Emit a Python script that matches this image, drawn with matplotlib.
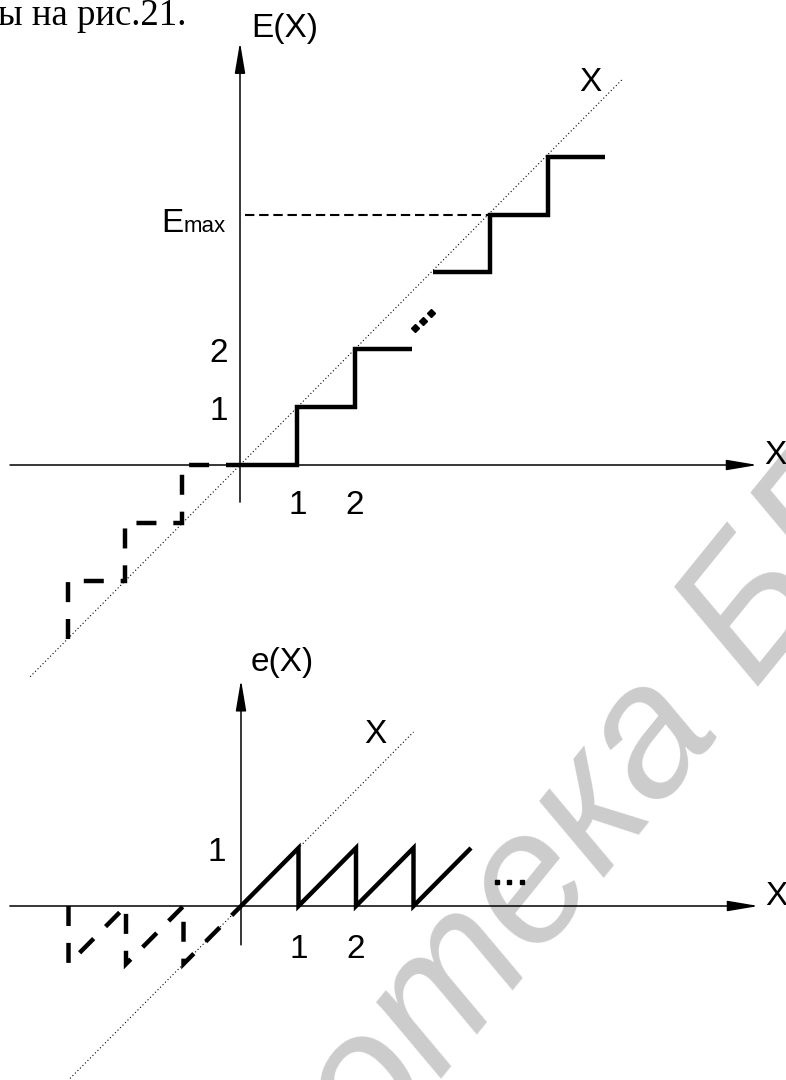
import matplotlib.pyplot as plt

plt.rcParams['font.family'] = ['Liberation Sans Narrow', 'Liberation Sans', 'DejaVu Sans']

# quantizer characteristic E(X), unit step, truncation toward zero
stair_x = [0, 1, 1, 2, 2, 3]
stair_y = [0, 0, 1, 1, 2, 2]
# last steps close to full scale
top_x = [3.35, 4.35, 4.35, 5.35, 5.35, 6.35]
top_y = [3.32, 3.32, 4.31, 4.31, 5.31, 5.31]
e_max = 4.31
# negative half (dashed)
neg_x = [-3, -3, -2, -2, -1, -1, 0]
neg_y = [-3, -2, -2, -1, -1, 0, 0]

# quantization error e(X) = X - E(X)
err_x = [0, 1, 1, 2, 2, 3, 3, 4]
err_y = [0, 1, 0, 1, 0, 1, 0, 1]
err_neg_x = [-3, -3, -2, -2, -1, -1, 0]
err_neg_y = [0, -1, 0, -1, 0, -1, 0]

ident_top = [-3.65, 6.65]   # span of the X reference line, upper plot
ident_bot = [-3.2, 3.0]     # span of the X reference line, lower plot
tick_vals = [1, 2]

W, H = 786, 1080
ux, uy = 57.5, 58.0          # pixels per unit

fig = plt.figure(figsize=(W / 100, H / 100), dpi=100)

# watermark
fig.text(548 / W, 1 - 870 / H, 'Библиотека БГУИР', family='Liberation Sans',
         style='italic', fontsize=134, color='#cccccc', rotation=51,
         ha='center', va='center', rotation_mode='anchor', zorder=-1)

fig.text(-2 / W, 1 - 25 / H, 'ы на рис.21.', family='Liberation Serif',
         fontsize=26.5, va='baseline')


def unit_axes(ox, oy):
    ax = fig.add_axes([0, 0, 1, 1])
    ax.set_xlim(-ox / ux, (W - ox) / ux)
    ax.set_ylim(-(H - oy) / uy, oy / uy)
    ax.axis('off')
    ax.patch.set_alpha(0)
    return ax


def axis_arrow(ax, x0, y0, x1, y1):
    ax.annotate('', xy=(x1, y1), xytext=(x0, y0),
                arrowprops=dict(arrowstyle='-|>,head_length=1.9,head_width=0.32',
                                lw=1.1, color='k', shrinkA=0, shrinkB=0))


thick = dict(color='k', lw=3.2, solid_joinstyle='miter', solid_capstyle='butt')
dashed = dict(color='k', lw=3.2, ls=(0, (4.5, 3.8)), dash_joinstyle='miter',
              dash_capstyle='butt')
dotted = dict(color='k', lw=0.8, ls=(0, (1, 2.2)))
fs = 24

# ---- upper plot: E(X) ----
ax = unit_axes(240, 465)
axis_arrow(ax, -4.0, 0, 9.0, 0)
axis_arrow(ax, 0, -0.64, 0, 7.29)
ax.plot(ident_top, ident_top, **dotted)
ax.plot(neg_x, neg_y, **dashed)
ax.plot(stair_x, stair_y, **thick)
ax.plot(top_x, top_y, **thick)
ax.plot([0.09, top_x[1]], [e_max, e_max], color='k', lw=1.5, ls=(0, (4.5, 2.3)))
ax.plot([3.04, 3.18, 3.32], [2.36, 2.49, 2.62], 'D', color='k', ms=4)

ax.text(0.2, 7.53, 'E(X)', fontsize=fs, va='center', ha='left')
ax.text(9.12, 0.17, 'X', fontsize=fs, va='center', ha='left')
ax.text(6.09, 6.6, 'X', fontsize=fs, va='center', ha='center')
ax.text(-0.99, 4.02, 'E', fontsize=fs, va='baseline', ha='right')
ax.text(-0.99, 4.02, 'max', fontsize=16, va='baseline', ha='left')
for v in tick_vals:
    ax.text(v, -0.7, str(v), fontsize=fs, va='center', ha='center')
    ax.text(-0.21, v - 0.07, str(v), fontsize=fs, va='center', ha='right')

# ---- lower plot: e(X) ----
bx = unit_axes(241, 906)
axis_arrow(bx, -4.02, 0, 9.0, 0)
axis_arrow(bx, 0, -0.67, 0, 3.9)
bx.plot(ident_bot, ident_bot, **dotted)
bx.plot(err_neg_x, err_neg_y, **dashed)
bx.plot(err_x, err_y, **thick)
bx.plot([4.45, 4.66, 4.88], [0.41, 0.41, 0.41], 's', color='k', ms=3)

bx.text(0.16, 4.2, 'e(X)', fontsize=fs, va='center', ha='left')
bx.text(9.12, 0.17, 'X', fontsize=fs, va='center', ha='left')
bx.text(2.33, 2.95, 'X', fontsize=fs, va='center', ha='center')
bx.text(-0.26, 0.93, '1', fontsize=fs, va='center', ha='right')
for v in tick_vals:
    bx.text(v, -0.75, str(v), fontsize=fs, va='center', ha='center')

fig.savefig('out.png', dpi=100)
